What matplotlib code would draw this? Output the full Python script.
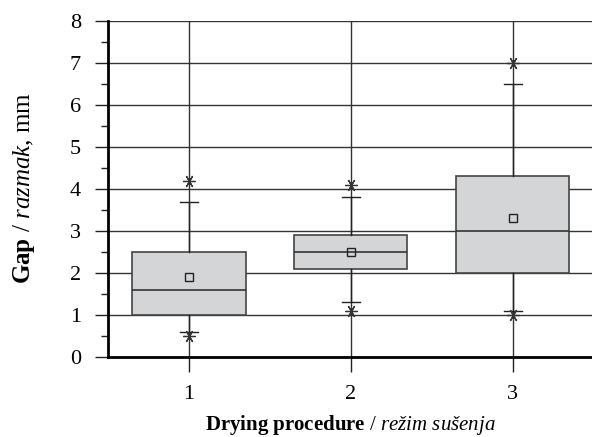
import matplotlib
matplotlib.use("Agg")
import matplotlib.pyplot as plt

# Boxplot statistics
procedures = [1, 2, 3]
q1 = [1.0, 2.1, 2.0]
q3 = [2.5, 2.9, 4.3]
median = [1.6, 2.5, 3.0]
mean = [1.9, 2.5, 3.3]
whisker_low = [0.6, 1.3, 1.1]
whisker_high = [3.7, 3.8, 6.5]
minimum = [0.5, 1.1, 1.0]
maximum = [4.2, 4.1, 7.0]

plt.rcParams['font.family'] = ['Liberation Serif', 'DejaVu Serif']
plt.rcParams['mathtext.fontset'] = 'custom'
plt.rcParams['mathtext.rm'] = 'Liberation Serif'
plt.rcParams['mathtext.it'] = 'Liberation Serif:italic'
plt.rcParams['mathtext.bf'] = 'Liberation Serif:bold'

fig = plt.figure(figsize=(5.92, 4.37), dpi=100)
ax = fig.add_axes([108 / 592, 1 - 357 / 437, 1 - 108 / 592, 336 / 437])

stats = []
for i in range(len(procedures)):
    stats.append({
        'med': median[i], 'q1': q1[i], 'q3': q3[i],
        'whislo': whisker_low[i], 'whishi': whisker_high[i],
        'mean': mean[i], 'fliers': [minimum[i], maximum[i]],
    })

ax.set_axisbelow(True)
ax.grid(True, color='#333333', linewidth=1.0)

ax.bxp(stats, positions=procedures, widths=0.7, capwidths=0.11,
       patch_artist=True, showmeans=True,
       boxprops=dict(facecolor='#d4d5d7', edgecolor='#444444', linewidth=1.2),
       medianprops=dict(color='#333333', linewidth=1.2),
       whiskerprops=dict(color='#222222', linewidth=1.0),
       capprops=dict(color='#222222', linewidth=1.0),
       meanprops=dict(marker='s', markersize=6, markerfacecolor='none',
                      markeredgecolor='#222222', markeredgewidth=1.0),
       flierprops=dict(marker=(6, 2, 90), markersize=9,
                       markeredgecolor='#333333', markeredgewidth=0.9))

ax.set_xlim(0.5, 3.49)
ax.set_ylim(0, 8)
ax.set_xticks(procedures)
ax.set_xticklabels([str(p) for p in procedures])
ax.set_yticks(range(0, 9))
ax.set_yticks([k + 0.5 for k in range(8)], minor=True)

for side in ['top', 'right']:
    ax.spines[side].set_visible(False)
ax.spines['left'].set_linewidth(2.0)
ax.spines['bottom'].set_linewidth(2.0)

ax.tick_params(axis='y', which='major', length=9.5, width=1.0, pad=10,
               labelsize=16, color='#222222')
ax.tick_params(axis='y', which='minor', length=5, width=1.0, color='#222222')
ax.tick_params(axis='x', which='major', length=11, width=1.0, pad=9,
               labelsize=16, color='#222222')

ax.set_ylabel(r'$\mathbf{Gap}$ / $\mathit{razmak}$, mm', fontsize=18)
ax.yaxis.set_label_coords(-0.147, 0.503)
ax.set_xlabel(r'$\mathbf{Drying\ procedure}$ / $\mathit{režim\ sušenja}$', fontsize=15)
ax.xaxis.set_label_coords(0.5, -0.168)

fig.savefig('out.png', dpi=100)
